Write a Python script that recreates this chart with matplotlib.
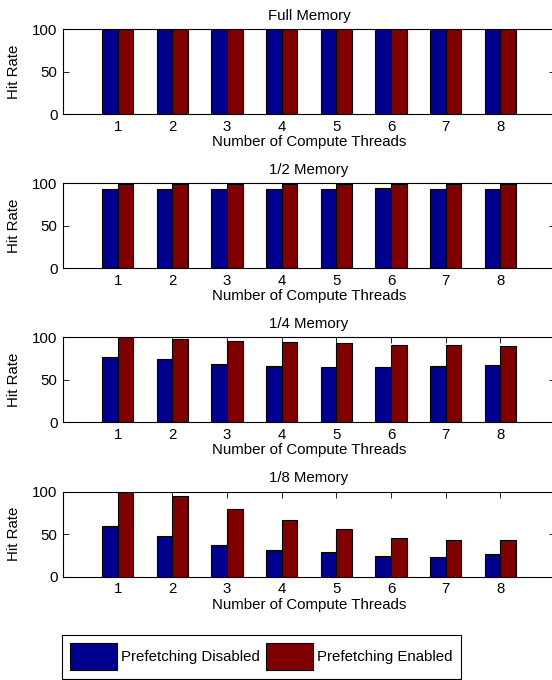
import matplotlib
matplotlib.use('Agg')
import matplotlib.pyplot as plt
import numpy as np

plt.rcParams['font.family'] = ['Liberation Sans', 'DejaVu Sans']

threads = [1, 2, 3, 4, 5, 6, 7, 8]
titles = ['Full Memory', '1/2 Memory', '1/4 Memory', '1/8 Memory']

# hit rate, prefetching disabled / enabled
full_off = [100, 100, 100, 100, 100, 100, 100, 100]
full_on = [100, 100, 100, 100, 100, 100, 100, 100]
half_off = [93.3, 93.3, 93.7, 93.7, 92.9, 94.1, 93.7, 92.9]
half_on = [99.2, 99.2, 99.2, 99.2, 99.2, 99.2, 98.8, 98.8]
quarter_off = [77.2, 74.0, 68.9, 66.5, 65.0, 65.0, 65.7, 66.9]
quarter_on = [100, 98.0, 96.1, 94.5, 92.9, 91.3, 90.9, 89.8]
eighth_off = [59.1, 48.0, 37.3, 31.0, 29.0, 24.2, 23.4, 26.6]
eighth_on = [100, 94.8, 80.2, 67.1, 56.3, 46.0, 43.7, 43.7]

off_all = [full_off, half_off, quarter_off, eighth_off]
on_all = [full_on, half_on, quarter_on, eighth_on]

blue = '#00008f'
red = '#800000'
fs = 10.8

W, H = 552, 680
fig = plt.figure(figsize=(W / 100, H / 100), dpi=100)

x = np.array(threads)
bw = 0.286
tops = [29.3, 183.3, 337.3, 491.7]
ax_h = 85.0
for i in range(4):
    ax = fig.add_axes([63 / W, 1 - (tops[i] + ax_h) / H, 492 / W, ax_h / H])
    b1 = ax.bar(x - bw / 2, off_all[i], bw, color=blue, edgecolor='black', linewidth=0.8,
                label='Prefetching Disabled')
    b2 = ax.bar(x + bw / 2, on_all[i], bw, color=red, edgecolor='black', linewidth=0.8,
                label='Prefetching Enabled')
    ax.set_xlim(0, 9)
    ax.set_ylim(0, 100)
    ax.set_xticks(threads)
    ax.set_yticks([0, 50, 100])
    ax.tick_params(direction='in', top=True, right=True, length=4, width=0.6,
                   labelsize=fs, pad=4)
    for s in ax.spines.values():
        s.set_linewidth(0.8)
    ax.set_title(titles[i], fontsize=fs, pad=7)
    ax.set_xlabel('Number of Compute Threads', fontsize=fs, labelpad=1)
    ax.set_ylabel('Hit Rate', fontsize=fs, labelpad=8)

leg = fig.legend(handles=[b1, b2], loc='upper left', bbox_to_anchor=(62 / W, 1 - 635 / H),
                 ncol=2, fontsize=fs, handlelength=3.1, handleheight=2.4,
                 handletextpad=0.3, columnspacing=0.4, borderpad=0.55, borderaxespad=0,
                 fancybox=False, framealpha=1, edgecolor='black')
leg.get_frame().set_linewidth(0.8)

fig.savefig('out.png', dpi=100)
